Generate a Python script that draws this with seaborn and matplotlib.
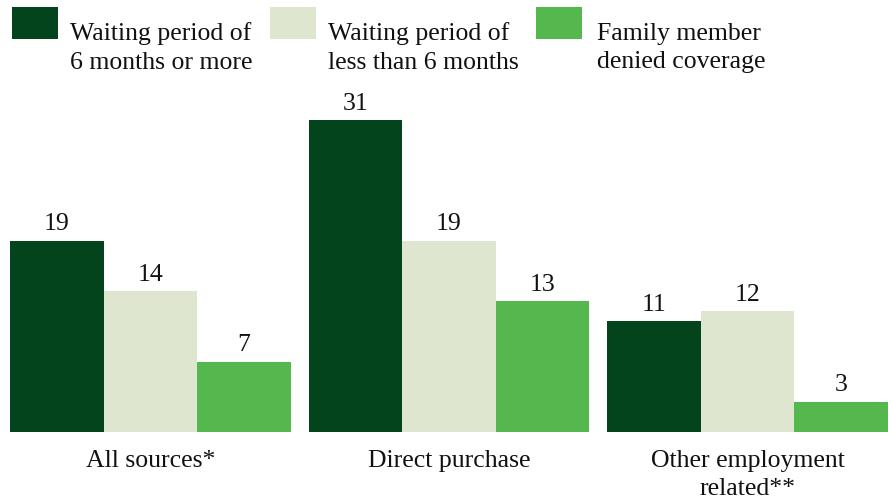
import matplotlib
matplotlib.use("Agg")
import matplotlib.pyplot as plt
import seaborn as sns
import pandas as pd
from matplotlib.patches import Rectangle

categories = ["All sources*", "Direct purchase", "Other employment\nrelated**"]
series = ["Waiting period of\n6 months or more", "Waiting period of\nless than 6 months", "Family member\ndenied coverage"]
wait_6_plus = [19, 31, 11]
wait_lt_6 = [14, 19, 12]
denied = [7, 13, 3]
colors = ["#03441C", "#DFE6D0", "#55B84F"]

rows = []
for s, vals in zip(series, [wait_6_plus, wait_lt_6, denied]):
    for c, v in zip(categories, vals):
        rows.append({"category": c, "series": s, "value": v})
df = pd.DataFrame(rows)

sns.set_theme(style="white")
plt.rcParams["font.family"] = ["Liberation Serif", "DejaVu Serif"]

W, H = 892, 501
fig = plt.figure(figsize=(W / 100, H / 100), dpi=100)
ax = fig.add_axes([10 / W, (H - 432) / H, 878 / W, 342 / H])

sns.barplot(data=df, x="category", y="value", hue="series", order=categories,
            hue_order=series, palette=colors, width=0.94, ax=ax,
            saturation=1, legend=False, linewidth=0)

for cont in ax.containers:
    ax.bar_label(cont, fmt="%d", padding=4, fontsize=18.5, color="#111111")

ax.set_xlim(-0.47, 2.47)
ax.set_ylim(0, 34)
ax.set_xlabel("")
ax.set_ylabel("")
ax.set_yticks([])
ax.tick_params(axis="x", length=0, labelsize=18.5, pad=13, colors="#111111")
for lbl in ax.get_xticklabels():
    lbl.set_linespacing(1.35)
for sp in ax.spines.values():
    sp.set_visible(False)

# legend (manual layout to match reference placement)
sq_x = [12, 270, 536]
txt_x = [70, 328, 597]
for sx, tx, c, s in zip(sq_x, txt_x, colors, series):
    fig.add_artist(Rectangle((sx / W, (H - 39) / H), 46 / W, 32 / H,
                             transform=fig.transFigure, facecolor=c, edgecolor="none"))
    fig.text(tx / W, (H - 48) / H, s, ha="left", va="center", fontsize=18.5,
             color="#111111", linespacing=1.38)

fig.savefig("out.png", dpi=100)
